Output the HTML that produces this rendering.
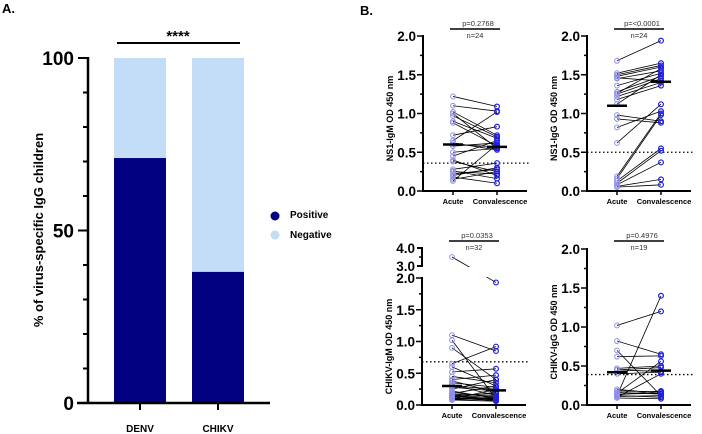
<!DOCTYPE html>
<html><head><meta charset="utf-8"><style>
html,body{margin:0;padding:0;background:#fff;}
svg{display:block;font-family:"Liberation Sans",Arial,sans-serif;}
</style></head><body>
<svg id="c" width="702" height="434" viewBox="0 0 702 434" xmlns="http://www.w3.org/2000/svg"></svg>
<script>
// Panel A data
const aCategories = ["DENV","CHIKV"];
const aPositive = [71, 38];
const aNegative = [29, 62];
const aTicks = [0, 50, 100];
// Panel B data
const b1Acute = [1.22,1.10,1.02,1.00,0.97,0.90,0.88,0.72,0.65,0.62,0.58,0.50,0.45,0.40,0.38,0.28,0.26,0.25,0.22,0.20,0.18,0.15,0.13,0.60];
const b1Conv  = [1.09,1.03,0.72,0.55,0.70,0.68,0.58,0.83,1.02,0.53,0.62,0.55,0.65,0.20,0.25,0.36,0.16,0.22,0.28,0.30,0.10,0.25,0.60,0.57];
const b2Acute = [1.68,1.52,1.50,1.48,1.45,1.36,1.28,1.25,1.22,1.18,1.12,0.98,0.93,0.82,0.62,0.19,0.16,0.13,0.10,0.08,0.06,0.05,1.26,1.46];
const b2Conv  = [1.94,1.65,1.62,1.60,1.55,1.52,1.48,1.45,1.40,1.36,1.50,0.90,0.88,1.03,1.12,1.00,0.98,0.55,0.52,0.37,0.15,0.08,1.58,1.42];
const b3Acute = [3.50,1.10,1.02,0.90,0.65,0.60,0.52,0.45,0.40,0.38,0.35,0.32,0.30,0.28,0.25,0.22,0.20,0.18,0.17,0.16,0.15,0.14,0.13,0.12,0.12,0.11,0.10,0.10,0.09,0.09,0.08,0.08];
const b3Conv  = [1.93,0.85,0.10,0.40,0.92,0.30,0.57,0.35,0.47,0.20,0.28,0.15,0.25,0.22,0.40,0.10,0.12,0.30,0.14,0.08,0.18,0.10,0.09,0.20,0.15,0.07,0.12,0.08,0.10,0.25,0.06,0.11];
const b4Acute = [1.02,0.82,0.70,0.62,0.47,0.45,0.40,0.20,0.15,0.12,0.10,0.12,0.13,0.11,0.09,0.45,0.14,0.16,0.18];
const b4Conv  = [1.20,0.65,0.12,0.63,0.50,0.48,0.42,0.15,0.56,1.40,0.40,0.10,0.18,0.12,0.08,0.43,0.15,0.14,0.17];
const bMeans = [[0.60,0.57],[1.10,1.41],[0.30,0.23],[0.42,0.44]];
const bCutoffs = [0.36, 0.50, 0.68, 0.39];
const bTitles = ["NS1-IgM OD 450 nm","NS1-IgG OD 450 nm","CHIKV-IgM OD 450 nm","CHIKV-IgG OD 450 nm"];
const bPvals = ["p=0.2768","p=<0.0001","p=0.0353","p=0.4976"];
const bNs = ["n=24","n=24","n=32","n=19"];
const bTicks = ["0.0","0.5","1.0","1.5","2.0"];

const svg = document.getElementById('c');
const NS = "http://www.w3.org/2000/svg";
function el(tag, attrs, parent){
  const e = document.createElementNS(NS, tag);
  for (const k in attrs) e.setAttribute(k, attrs[k]);
  (parent||svg).appendChild(e);
  return e;
}
function txt(s, attrs, parent){ const t = el('text', attrs, parent); t.textContent = s; return t; }

// ---------- Panel A ----------
const gA = el('g', {});


const t0 = txt("A.", {x:2, y:13, 'font-size':13, 'font-weight':'bold'}, gA);


const aY0 = 403, aY100 = 58, aAxisX = 88;
const ay = v => aY0 - v/100*(aY0-aY100);
const barX = [114, 192], barW = 52;
aCategories.forEach((c,i)=>{
  const r1 = el('rect', {x:barX[i], y:ay(100), width:barW, height:ay(aPositive[i])-ay(100), fill:'#c3dcf8'}, gA);
  
  
  const r2 = el('rect', {x:barX[i], y:ay(aPositive[i]), width:barW, height:aY0-ay(aPositive[i]), fill:'#000080'}, gA);
  
  
  el('line', {x1:barX[i]+barW/2, x2:barX[i]+barW/2, y1:aY0, y2:aY0+7, stroke:'#000', 'stroke-width':2}, gA);
  const xl = txt(c, {x:barX[i]+barW/2, y:432, 'font-size':10, 'font-weight':'bold', 'text-anchor':'middle'}, gA);
  
  
});
el('line', {x1:aAxisX, x2:aAxisX, y1:aY100-1, y2:aY0+1, stroke:'#000', 'stroke-width':2.5}, gA);
el('line', {x1:77, x2:270, y1:aY0, y2:aY0, stroke:'#000', 'stroke-width':2.5}, gA);
for (let v=0; v<=100; v+=10){
  const major = aTicks.includes(v);
  el('line', {x1:aAxisX-(major?10:5), x2:aAxisX, y1:ay(v), y2:ay(v), stroke:'#000', 'stroke-width':2}, gA);
}
aTicks.forEach(v=>{
  const t = txt(String(v), {x:74, y:ay(v)+7, 'font-size':19, 'font-weight':'bold', 'text-anchor':'end'}, gA);
  
  
});
const ayt = txt("% of virus-specific IgG children", {x:0, y:0, 'font-size':13, 'font-weight':'bold', 'text-anchor':'middle', transform:'translate(43,230) rotate(-90)'}, gA);


el('line', {x1:117, x2:240, y1:43, y2:43, stroke:'#000', 'stroke-width':2}, gA);
const st = txt("****", {x:178, y:41, 'font-size':15, 'font-weight':'bold', 'text-anchor':'middle'}, gA);


const lg = el('g', {}, gA);


el('circle', {cx:275, cy:216, r:4.5, fill:'#000080'}, lg);
txt("Positive", {x:290, y:218, 'font-size':10, 'font-weight':'bold'}, lg);
el('circle', {cx:275, cy:235, r:4.5, fill:'#c3dcf8'}, lg);
txt("Negative", {x:290, y:238, 'font-size':10, 'font-weight':'bold'}, lg);
const tB = txt("B.", {x:360, y:15, 'font-size':13, 'font-weight':'bold'});



// ---------- Panel B ----------
const panels = [
  {ax:423, y0:191, y2:36, acute:b1Acute, conv:b1Conv},
  {ax:587, y0:191, y2:36, acute:b2Acute, conv:b2Conv},
  {ax:422, y0:405, y2:278, acute:b3Acute, conv:b3Conv, brk:true},
  {ax:587, y0:405, y2:249, acute:b4Acute, conv:b4Conv}
];
panels.forEach((p,i)=>{
  const g = el('g', {});
  
  
  const unit = (p.y0-p.y2)/2;
  const y3 = 266, y4 = 248;
  const yv = v => (p.brk && v>2.5) ? y3 - (v-3)*(y3-y4) : p.y0 - v*unit;
  const xa = p.ax+30, xc = p.ax+74;
  // pairs
  p.acute.forEach((a,j)=>{
    const c = p.conv[j];
    const ln = el('line', {x1:xa, y1:yv(a), x2:xc, y2:yv(c), stroke:'#000', 'stroke-width':0.8}, g);
    
    
  });
  if (p.brk){
    el('rect', {x:p.ax+2, y:y3+1, width:110, height:(p.y2-y3)-2, fill:'#fff'}, g);
  }
  // axes
  el('line', {x1:p.ax, x2:p.ax, y1:p.y0+1, y2:p.y2-1, stroke:'#000', 'stroke-width':2}, g);
  if (p.brk){
    el('line', {x1:p.ax, x2:p.ax, y1:y3+1, y2:y4-1, stroke:'#000', 'stroke-width':2}, g);
    el('line', {x1:p.ax-5, x2:p.ax, y1:y3, y2:y3, stroke:'#000', 'stroke-width':2}, g);
    el('line', {x1:p.ax-5, x2:p.ax, y1:y4, y2:y4, stroke:'#000', 'stroke-width':2}, g);
    el('line', {x1:p.ax-3, x2:p.ax, y1:(y3+y4)/2, y2:(y3+y4)/2, stroke:'#000', 'stroke-width':1.5}, g);
    ["3.0","4.0"].forEach(s=>{
      txt(s, {x:p.ax-7, y:yv(+s)+5, 'font-size':13.5, 'font-weight':'bold', 'text-anchor':'end'}, g);
    });
  }
  el('line', {x1:p.ax-1, x2:p.ax+104, y1:p.y0, y2:p.y0, stroke:'#000', 'stroke-width':2}, g);
  for (let k=0;k<=8;k++){
    const yy = p.y0 - k*unit/4;
    el('line', {x1:p.ax-(k%2===0?6:3), x2:p.ax, y1:yy, y2:yy, stroke:'#000', 'stroke-width':1.5}, g);
  }
  bTicks.forEach(s=>{
    const t = txt(s, {x:p.ax-7, y:yv(+s)+5, 'font-size':13.5, 'font-weight':'bold', 'text-anchor':'end'}, g);
    
    
  });
  [xa,xc].forEach(x=>el('line', {x1:x, x2:x, y1:p.y0, y2:p.y0+4, stroke:'#000', 'stroke-width':1.5}, g));
  txt("Acute", {x:xa, y:p.y0+13, 'font-size':7.5, 'font-weight':'bold', 'text-anchor':'middle'}, g);
  txt("Convalescence", {x:xc+3, y:p.y0+13, 'font-size':7.5, 'font-weight':'bold', 'text-anchor':'middle'}, g);
  const yt = txt(bTitles[i], {x:0, y:0, 'font-size':9, 'font-weight':'bold', 'text-anchor':'middle', transform:'translate('+(p.ax-30)+','+((p.y0+p.y2)/2+5)+') rotate(-90)'}, g);
  
  
  // cutoff
  const co = el('line', {x1:p.ax, x2:p.ax+106, y1:yv(bCutoffs[i]), y2:yv(bCutoffs[i]), stroke:'#000', 'stroke-width':1.3, 'stroke-dasharray':'1.5,2.5'}, g);
  
  
  p.acute.forEach(a=>{
    const c1 = el('circle', {cx:xa, cy:yv(a), r:2.4, fill:'none', stroke:'#8f8fe8', 'stroke-width':1}, g);
    
    
  });
  p.conv.forEach(c=>{
    const c2 = el('circle', {cx:xc, cy:yv(c), r:2.4, fill:'none', stroke:'#2020d8', 'stroke-width':1.2}, g);
    
    
  });
  // means
  [xa,xc].forEach((x,k)=>{
    const m = el('line', {x1:x-10, x2:x+10, y1:yv(bMeans[i][k]), y2:yv(bMeans[i][k]), stroke:'#000', 'stroke-width':2.5}, g);
    
    
  });
  // stats
  const ty = i<2 ? 26 : 238;
  txt(bPvals[i], {x:(xa+xc)/2+3, y:ty, 'font-size':7.5, fill:'#333', 'text-anchor':'middle'}, g);
  el('line', {x1:xa-3, x2:xc+3, y1:ty+3, y2:ty+3, stroke:'#000', 'stroke-width':1.5}, g);
  txt(bNs[i], {x:(xa+xc)/2, y:ty+12, 'font-size':7.5, fill:'#333', 'text-anchor':'middle'}, g);
});
</script>
</body></html>
